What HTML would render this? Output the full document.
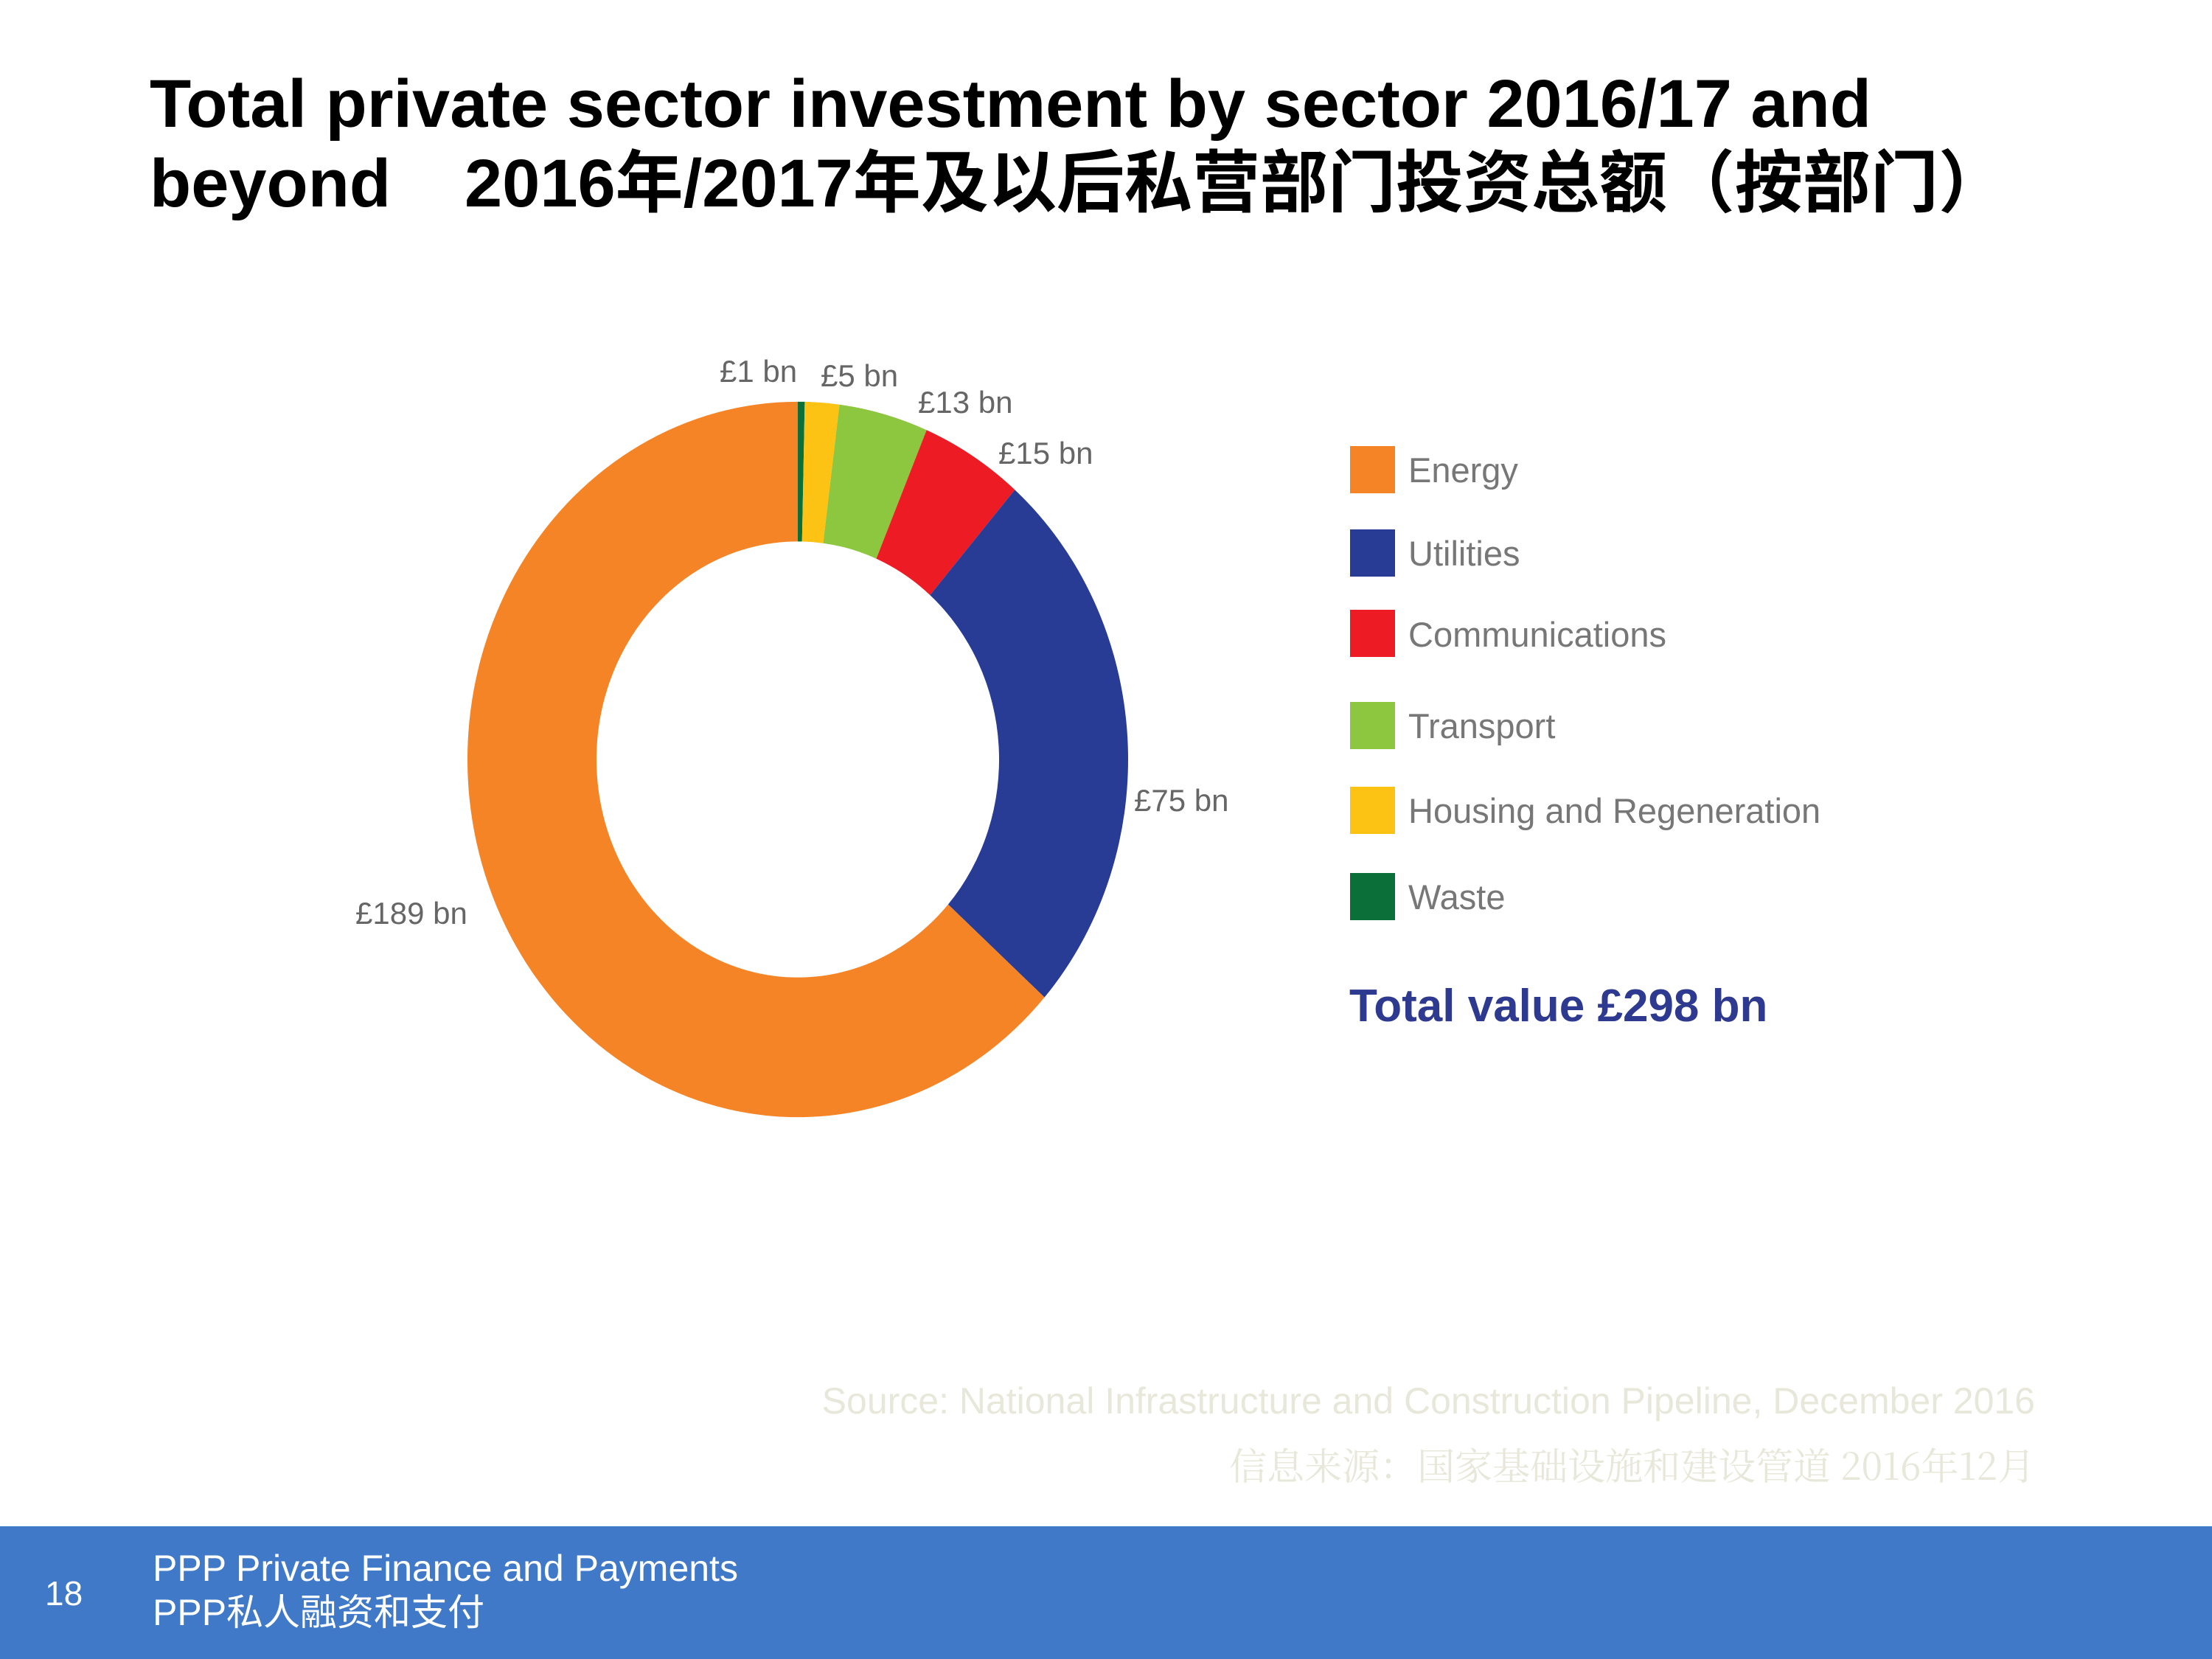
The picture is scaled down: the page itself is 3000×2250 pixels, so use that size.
<!DOCTYPE html>
<html><head><meta charset="utf-8"><style>
html,body{margin:0;padding:0;background:#fff;}
svg{display:block;}
</style></head><body>
<svg width="3000" height="2250" viewBox="0 0 3000 2250" xmlns="http://www.w3.org/2000/svg">
<rect width="3000" height="2250" fill="#fff"/>
<g font-family="Liberation Sans, 'Noto Sans CJK SC', sans-serif" font-weight="bold" font-size="92" fill="#000">
<text x="203" y="172">Total private sector investment by sector 2016/17 and</text>
<text x="203" y="280">beyond<tspan x="630">2016年/2017年及以后私营部门投资总额（按部门）</tspan></text>
</g>
<g transform="translate(1082,1030) scale(1,1.083)">
<path d="M0,-448 A448,448 0 0 1 9.44,-447.9 L5.75,-272.94 A273,273 0 0 0 0,-273 Z" fill="#0b6f3a"/>
<path d="M9.44,-447.9 A448,448 0 0 1 56.52,-444.42 L34.44,-270.82 A273,273 0 0 0 5.75,-272.94 Z" fill="#fcc214"/>
<path d="M56.52,-444.42 A448,448 0 0 1 174.71,-412.53 L106.46,-251.39 A273,273 0 0 0 34.44,-270.82 Z" fill="#8dc63f"/>
<path d="M174.71,-412.53 A448,448 0 0 1 294.34,-337.74 L179.36,-205.81 A273,273 0 0 0 106.46,-251.39 Z" fill="#ed1c24"/>
<path d="M294.34,-337.74 A448,448 0 0 1 334.58,297.93 L203.88,181.55 A273,273 0 0 0 179.36,-205.81 Z" fill="#283c96"/>
<path d="M334.58,297.93 A448,448 0 1 1 0,-448 L0,-273 A273,273 0 1 0 203.88,181.55 Z" fill="#f58426"/>
</g>
<g font-family="Liberation Sans, sans-serif" font-size="42" fill="#666">
<text x="976" y="518">£1 bn</text>
<text x="1113" y="524">£5 bn</text>
<text x="1245" y="560">£13 bn</text>
<text x="1354" y="629">£15 bn</text>
<text x="1538" y="1100">£75 bn</text>
<text x="482" y="1253">£189 bn</text>
</g>
<g>
<rect x="1831" y="605" width="61" height="64" fill="#f58426"/>
<rect x="1831" y="718" width="61" height="64" fill="#283c96"/>
<rect x="1831" y="827" width="61" height="64" fill="#ed1c24"/>
<rect x="1831" y="952" width="61" height="64" fill="#8dc63f"/>
<rect x="1831" y="1067" width="61" height="64" fill="#fcc214"/>
<rect x="1831" y="1184" width="61" height="64" fill="#0b6f3a"/>
</g>
<g font-family="Liberation Sans, sans-serif" font-size="47" fill="#777">
<text x="1910" y="654">Energy</text>
<text x="1910" y="767">Utilities</text>
<text x="1910" y="877">Communications</text>
<text x="1910" y="1001">Transport</text>
<text x="1910" y="1116">Housing and Regeneration</text>
<text x="1910" y="1233">Waste</text>
</g>
<text x="1830" y="1385" font-family="Liberation Sans, sans-serif" font-weight="bold" font-size="62" fill="#2e3a8f">Total value £298 bn</text>
<g font-family="Liberation Sans, 'Noto Sans CJK SC', sans-serif" font-size="50" fill="#e8e8da" text-anchor="end">
<text x="2760" y="1917">Source: National Infrastructure and Construction Pipeline, December 2016</text>
<text x="2760" y="2007" font-size="51" font-family="'Noto Serif CJK SC', serif">信息来源：国家基础设施和建设管道  2016年12月</text>
</g>
<rect x="0" y="2070" width="3000" height="180" fill="#3f79c8"/>
<g font-family="Liberation Sans, 'Noto Sans CJK SC', sans-serif" fill="#fff">
<text x="61" y="2177" font-size="46">18</text>
<text x="207" y="2144" font-size="50">PPP Private  Finance and Payments</text>
<text x="207" y="2204" font-size="50">PPP私人融资和支付</text>
</g>
</svg>
</body></html>
